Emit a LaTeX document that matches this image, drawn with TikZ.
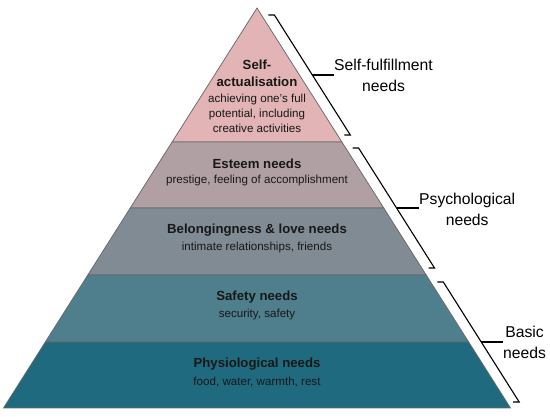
\documentclass[tikz,border=0pt]{standalone}
\usepackage{fontspec}
\setmainfont{Liberation Sans}
\definecolor{pyrcolor0001}{RGB}{226,180,181}
\definecolor{pyrcolor0002}{RGB}{177,160,163}
\definecolor{pyrcolor0003}{RGB}{128,139,148}
\definecolor{pyrcolor0004}{RGB}{79,126,140}
\definecolor{pyrcolor0005}{RGB}{31,106,126}
\definecolor{pyrcolor0006}{RGB}{105,105,105}
\definecolor{pyrcolor0007}{RGB}{24,24,24}
\begin{document}
\begin{tikzpicture}[yscale=-1
,lstyle0/.style={color=pyrcolor0006,line width=0.75pt}
,bstyle0/.style={color=black,line width=1.1pt}
,tstyle0/.style={align=center,inner sep=0,text=pyrcolor0007,font=\fontsize{13.2}{17}\selectfont\bfseries}
,tstyle1/.style={align=center,inner sep=0,text=pyrcolor0007,font=\fontsize{11.6}{15}\selectfont}
,tstyle2/.style={align=center,inner sep=0,text=black,font=\fontsize{15.7}{21}\selectfont}
]
\useasboundingbox (0pt,0pt) rectangle (550pt,417pt);
% layers of the pyramid
\draw[lstyle0,fill=pyrcolor0001] (257pt,8pt) -- (341.9pt,142pt) -- (172.1pt,142pt) -- cycle;
\draw[lstyle0,fill=pyrcolor0002] (172.1pt,142pt) -- (341.9pt,142pt) -- (383.75pt,208pt) -- (130.25pt,208pt) -- cycle;
\draw[lstyle0,fill=pyrcolor0003] (130.25pt,208pt) -- (383.75pt,208pt) -- (426.2pt,275pt) -- (87.8pt,275pt) -- cycle;
\draw[lstyle0,fill=pyrcolor0004] (87.8pt,275pt) -- (426.2pt,275pt) -- (468.7pt,342pt) -- (45.3pt,342pt) -- cycle;
\draw[lstyle0,fill=pyrcolor0005] (45.3pt,342pt) -- (468.7pt,342pt) -- (510.5pt,408pt) -- (3.5pt,408pt) -- cycle;
% texts in the layers
\node (selftitle) at (257pt,73.5pt)[tstyle0]{Self-\\actualisation};
\node (selfsub) at (257pt,113pt)[tstyle1]{achieving one's full\\potential, including\\creative activities};
\node (esteemtitle) at (257pt,164pt)[tstyle0]{Esteem needs};
\node (esteemsub) at (257pt,181pt)[tstyle1]{prestige, feeling of accomplishment};
\node (lovetitle) at (257pt,230.5pt)[tstyle0]{Belongingness \& love needs};
\node (lovesub) at (257pt,248pt)[tstyle1]{intimate relationships, friends};
\node (safetytitle) at (257pt,297pt)[tstyle0]{Safety needs};
\node (safetysub) at (257pt,315pt)[tstyle1]{security, safety};
\node (physiotitle) at (257pt,364pt)[tstyle0]{Physiological needs};
\node (physiosub) at (257pt,382pt)[tstyle1]{food, water, warmth, rest};
% brackets
\draw[bstyle0] (268.4pt,15pt) -- (274.4pt,15pt) -- (350.3pt,135pt) -- (344.3pt,135pt);
\coordinate (fulfilmid) at (312.4pt,75pt);
\node (fulfil) at (334pt,75.5pt)[anchor=west,tstyle2]{Self-fulfillment\\needs};
\draw[bstyle0] (fulfilmid) -- (fulfil.west |- fulfilmid);
\draw[bstyle0] (352.6pt,148pt) -- (358.6pt,148pt) -- (434.5pt,268pt) -- (428.5pt,268pt);
\coordinate (psychmid) at (396.5pt,208pt);
\node (psych) at (419pt,209pt)[anchor=west,tstyle2]{Psychological\\needs};
\draw[bstyle0] (psychmid) -- (psych.west |- psychmid);
\draw[bstyle0] (437.3pt,282pt) -- (443.3pt,282pt) -- (519.2pt,402pt) -- (513.2pt,402pt);
\coordinate (basicmid) at (481.3pt,342pt);
\node (basic) at (503pt,342pt)[anchor=west,tstyle2]{Basic\\needs};
\draw[bstyle0] (basicmid) -- (basic.west |- basicmid);
\end{tikzpicture}
\end{document}
